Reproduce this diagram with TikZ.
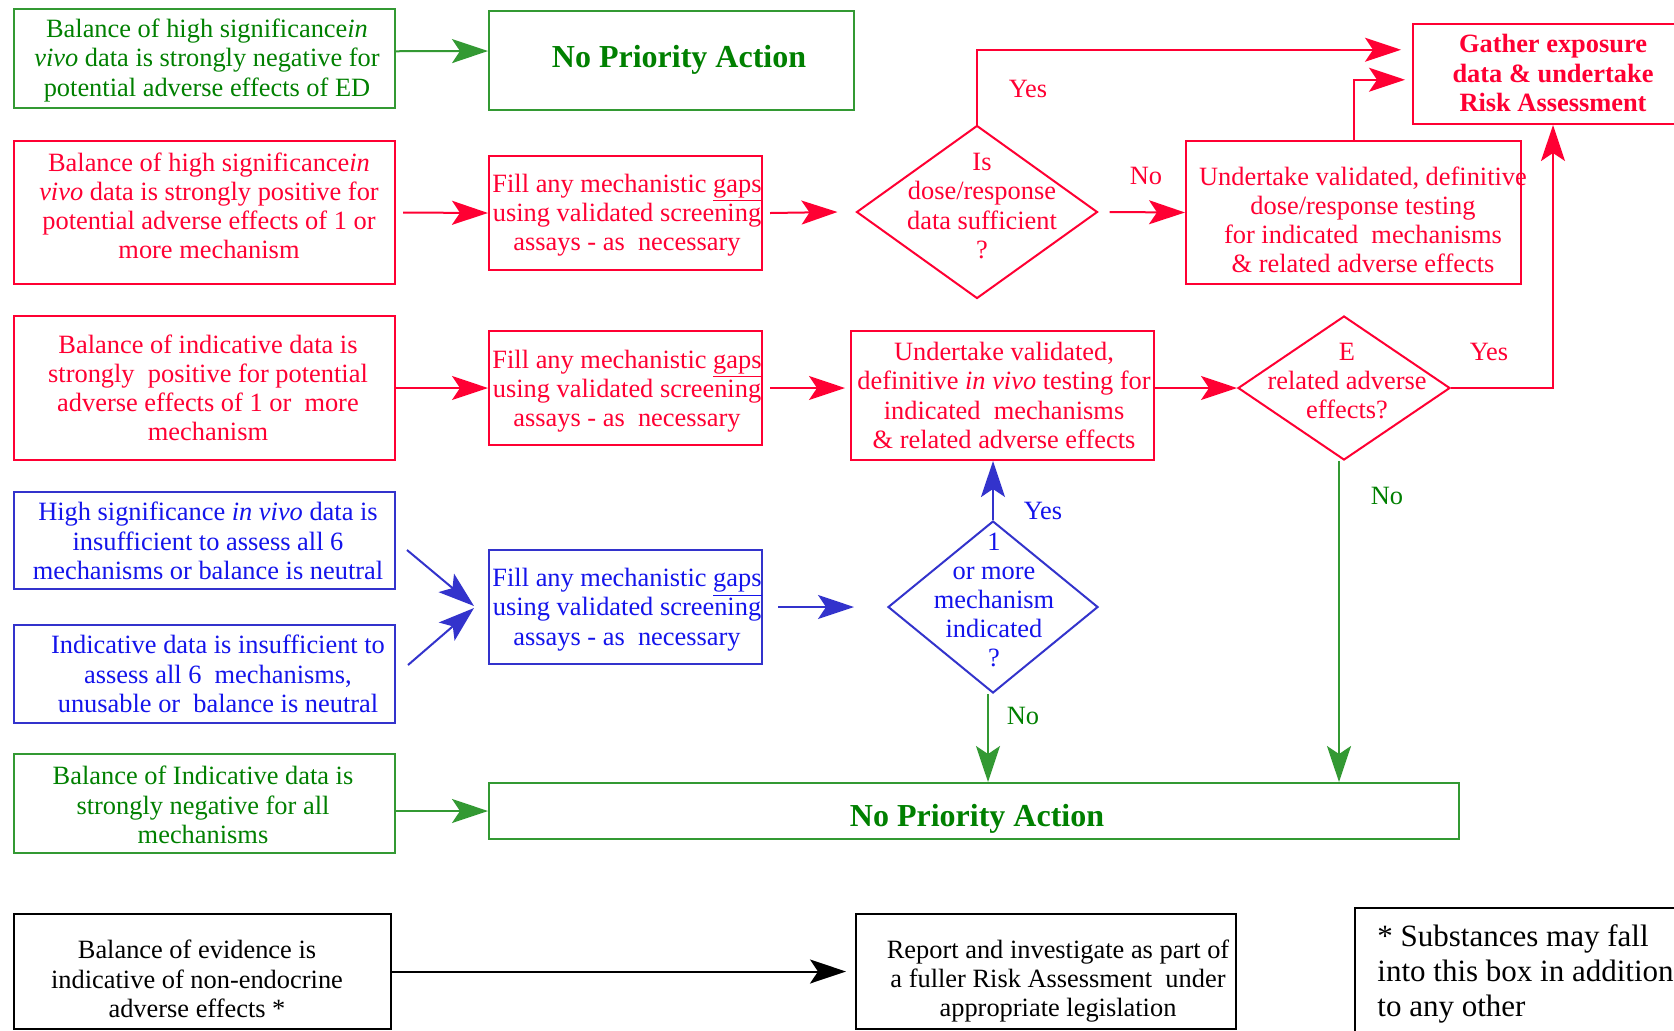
\documentclass[tikz,border=0pt]{standalone}
\usepackage{fontspec}
\setmainfont{Liberation Serif}
\usetikzlibrary{fit,shapes.geometric,arrows.meta}
\definecolor{redc}{RGB}{255,0,51}
\definecolor{greenl}{RGB}{51,153,51}
\definecolor{greent}{RGB}{0,128,0}
\definecolor{bluel}{RGB}{51,51,204}
\definecolor{bluet}{RGB}{20,20,235}
\begin{document}
\begin{tikzpicture}[x=0.5pt,y=-0.5pt,
  box/.style={draw=#1, line width=1pt, inner sep=0pt, rectangle},
  dia/.style={draw=#1, line width=1pt, inner sep=0pt, diamond},
  txt/.style={align=center, inner sep=0pt, font=\fontsize{13.2}{14.6}\selectfont},
  bigt/.style={inner sep=0pt, font=\fontsize{16}{19}\selectfont\bfseries},
  arr/.style={draw=#1, line width=1pt, -{Stealth[length=18pt,width=12pt,inset=4pt]}},
  lbl/.style={inner sep=0pt, font=\fontsize{13.2}{14.6}\selectfont}
]
\useasboundingbox (0,0) rectangle (1674,1030);
\fill[white] (0,0) rectangle (1674,1030);

% ---------- boxes ----------
\node[box=greenl, fit={(14,8.5)(395,108)}] (g1) {};
\node[box=greenl, fit={(489,11)(854,110)}] (npa1) {};
\node[box=redc, fit={(14,141)(395,284)}] (r1) {};
\node[box=redc, fit={(489,156)(762,270)}] (f1) {};
\node[dia=redc, minimum width=120.5pt, minimum height=86.5pt] (d1) at (977,212) {};
\node[box=redc, fit={(1186,141)(1521,284)}] (dose) {};
\node[box=redc, fit={(1413,23.5)(1693,124)}] (gather) {};
\node[box=redc, fit={(14,316)(395,460)}] (r2) {};
\node[box=redc, fit={(489,331)(762,445)}] (f2) {};
\node[box=redc, fit={(851,331)(1154,460)}] (iv) {};
\node[dia=redc, minimum width=106pt, minimum height=72pt] (d2) at (1344,388) {};
\node[box=bluel, fit={(14,492)(395,589)}] (b1) {};
\node[box=bluel, fit={(14,625)(395,723)}] (b2) {};
\node[box=bluel, fit={(489,550)(762,664)}] (f3) {};
\node[dia=bluel, minimum width=105pt, minimum height=86pt] (d3) at (993,607) {};
\node[box=greenl, fit={(14,754)(395,853)}] (g2) {};
\node[box=greenl, fit={(489,783)(1459,839)}] (npa2) {};
\node[box=black, fit={(14,914)(391,1029)}] (k1) {};
\node[box=black, fit={(856,914)(1236,1029)}] (k2) {};
\node[box=black, fit={(1355,908)(1700,1040)}] (k3) {};

% ---------- texts ----------
\node[txt, text=greent] (g1t) at (207,60.5) {Balance of high significance\textit{in}\\\textit{vivo} data is strongly negative for\\potential adverse effects of ED};
\node[bigt, text=greent] (npa1t) at (679,60) {No Priority Action};
\node[txt, text=redc] (r1t) at (209,206) {Balance of high significance\textit{in}\\\textit{vivo} data is strongly positive for\\potential adverse effects of 1 or\\more mechanism};
\node[txt, text=redc] (f1t) at (627,215) {Fill any mechanistic \underline{gaps}\\using validated screening\\assays - as\ \ necessary};
\node[txt, text=redc] (d1t) at (982,206) {Is\\dose/response\\data sufficient\\?};
\node[txt, text=redc] (doset) at (1363,220) {Undertake validated, definitive\\dose/response testing\\for indicated\ \ mechanisms\\\& related adverse effects};
\node[txt, text=redc, font=\fontsize{13.2}{14.6}\selectfont\bfseries] (gathert) at (1553,73) {Gather exposure\\data \& undertake\\Risk Assessment};
\node[txt, text=redc] (r2t) at (208,388) {Balance of indicative data is\\strongly\ \ positive for potential\\adverse effects of 1 or\ \ more\\mechanism};
\node[txt, text=redc] (f2t) at (627,391) {Fill any mechanistic \underline{gaps}\\using validated screening\\assays - as\ \ necessary};
\node[txt, text=redc] (ivt) at (1004,395.5) {Undertake validated,\\definitive \textit{in vivo} testing for\\indicated\ \ mechanisms\\\& related adverse effects};
\node[txt, text=redc] (d2t) at (1347,381) {E\\related adverse\\effects?};
\node[txt, text=bluet] (b1t) at (208,541) {High significance \textit{in vivo} data is\\insufficient to assess all 6\\mechanisms or balance is neutral};
\node[txt, text=bluet] (b2t) at (218,674) {Indicative data is insufficient to\\assess all 6\ \ mechanisms,\\unusable or\ \ balance is neutral};
\node[txt, text=bluet] (f3t) at (627,609.5) {Fill any mechanistic \underline{gaps}\\using validated screening\\assays - as\ \ necessary};
\node[txt, text=bluet] (d3t) at (994,600) {1\\or more\\mechanism\\indicated\\?};
\node[txt, text=greent] (g2t) at (203,805) {Balance of Indicative data is\\strongly negative for all\\mechanisms};
\node[bigt, text=greent] (npa2t) at (977,819) {No Priority Action};
\node[txt] (k1t) at (197,979) {Balance of evidence is\\indicative of non-endocrine\\adverse effects *};
\node[txt] (k2t) at (1058,981) {Report and investigate as part of\\a fuller Risk Assessment\ \ under\\appropriate legislation};
\node[txt, align=left, anchor=west, font=\fontsize{15.5}{17.6}\selectfont] (k3t) at (1377,974) {* Substances may fall\\into this box in addition\\to any other};

% ---------- labels ----------
\node[lbl, text=redc] (y1) at (1028,89) {Yes};
\node[lbl, text=redc] (n1) at (1146,176) {No};
\node[lbl, text=redc] (y2) at (1489,352) {Yes};
\node[lbl, text=greent] (n2) at (1387,496) {No};
\node[lbl, text=bluet] (y3) at (1043,511) {Yes};
\node[lbl, text=greent] (n3) at (1023,716) {No};

% ---------- connectors ----------
\draw[arr=greenl] ([yshift=3.5pt]g1.east) -- ([yshift=4.75pt]npa1.west);
\draw[arr=redc] ([xshift=3.5pt]r1.east) -- (f1.west);
\draw[arr=redc] ([xshift=3.5pt]f1.east) -- ([xshift=-9pt]d1.west);
\draw[arr=redc] ([xshift=5.5pt]d1.east) -- (dose.west);
\draw[arr=redc] (d1.north) |- ([xshift=-5.5pt,yshift=12pt]gather.west);
\draw[arr=redc] (dose.north) |- ([xshift=-3.5pt,yshift=-3pt]gather.west);
\draw[arr=redc] (r2.east) -- (f2.west);
\draw[arr=redc] ([xshift=3.5pt]f2.east) -- ([xshift=-2.5pt]iv.west |- f2.east);
\draw[arr=redc] (iv.east |- d2.west) -- (d2.west);
\draw[arr=redc] (d2.east) -| (gather.south);
\draw[arr=greenl] ([xshift=-2.5pt]d2.south) -- ([xshift=-2.5pt]d2.south |- npa2.north);
\draw[arr=bluel] ([xshift=5.5pt,yshift=-4.75pt]b1.east) -- ([xshift=-7pt,yshift=0.5pt]f3.west);
\draw[arr=bluel] ([xshift=6pt,yshift=4.5pt]b2.east) -- ([xshift=-7pt,yshift=-0.5pt]f3.west);
\draw[arr=bluel] ([xshift=7.5pt]f3.east) -- ([xshift=-16.5pt]d3.west);
\draw[arr=bluel] (d3.north) -- (d3.north |- iv.south);
\draw[arr=greenl] ([xshift=-2.5pt]d3.south) -- ([xshift=-2.5pt]d3.south |- npa2.north);
\draw[arr=greenl] (g2.east |- npa2.west) -- (npa2.west);
\draw[arr=black] (k1.east) -- ([xshift=-4.5pt]k2.west);
\end{tikzpicture}
\end{document}
